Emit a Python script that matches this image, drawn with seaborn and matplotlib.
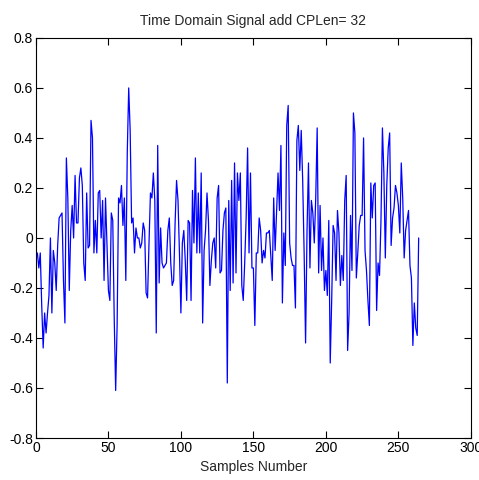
import numpy as np
import pandas as pd
import matplotlib
matplotlib.use("Agg")
import matplotlib.pyplot as plt
import seaborn as sns

# --- data (samples 0..263) ---
seg1 = [-0.06, -0.12, -0.06, -0.27, -0.44, -0.30, -0.38, -0.30, -0.23, 0.00,
        -0.30, -0.05, -0.10, -0.21, -0.03, 0.08, 0.09, 0.10, -0.17, -0.34,
        0.32, 0.16, -0.21, 0.03, 0.13, 0.00, 0.25, 0.06, 0.06, 0.24,
        0.28, 0.21, -0.10, -0.17, 0.18, -0.04, -0.03, 0.47, 0.40, -0.06,
        0.07, -0.06, 0.18, 0.19, 0.00, 0.15, -0.17]
seg2 = [0.16, -0.02, -0.21, -0.25, 0.10, 0.07, -0.32, -0.61, -0.35, 0.16,
        0.14, 0.21, 0.05, 0.16, -0.17, 0.34, 0.60, 0.43, 0.06, 0.08,
        -0.06, 0.04, 0.00, 0.00, -0.04, -0.02, 0.06, 0.03, -0.22, -0.24,
        -0.02, 0.18, 0.16, 0.26, 0.15, -0.38, 0.37, -0.18, 0.04, -0.10,
        -0.12, -0.11, -0.10, 0.03, 0.08, -0.10, -0.19, -0.17, 0.06, 0.23,
        0.15, -0.06, -0.30]
seg3 = [-0.02, 0.03, -0.09, -0.25, 0.07, 0.06, -0.25, 0.19, -0.02, 0.32,
        -0.06, 0.18, -0.06, 0.26, -0.34, -0.05, 0.03, 0.18, 0.07, -0.19,
        -0.09, -0.02, 0.00, -0.12, 0.16, 0.21, -0.14, -0.13, 0.03, 0.10,
        0.12, -0.58, 0.15, -0.21, 0.23, -0.18, 0.30, -0.14, 0.26, 0.15,
        0.26, -0.19, -0.25, -0.10, 0.08, 0.36, -0.06, 0.26, -0.12, -0.12,
        -0.35, -0.06, -0.06, 0.08, 0.03]
seg4 = [-0.10, -0.05, -0.08, 0.02, 0.02, 0.03, -0.07, -0.17, 0.16, -0.05,
        0.11, 0.26, 0.11, 0.37, -0.26, 0.02, -0.11, 0.45, 0.53, -0.02,
        -0.08, -0.11, -0.11, -0.28, 0.39, 0.45, 0.27, 0.43, 0.23, -0.06,
        -0.42, 0.03, 0.30, -0.12, 0.15, 0.10, -0.02, 0.16, 0.44, -0.14,
        0.13, -0.13, 0.00, -0.21, -0.13, -0.23, 0.07, -0.50]
seg5 = [-0.25, 0.05, 0.02, -0.17, 0.11, 0.02, -0.19, -0.07, -0.17, 0.15,
        0.25, -0.45, -0.30, 0.09, -0.13, 0.50, 0.42, -0.16, -0.06, 0.05,
        0.09, 0.09, 0.40, -0.05, -0.13, -0.25, -0.35, 0.22, 0.08, 0.21,
        0.22, -0.29, -0.10, -0.15, 0.07, 0.44, 0.26, -0.08, 0.21, 0.36,
        0.42, -0.03, 0.08, 0.12, 0.21, 0.18, 0.13, 0.02, 0.30, 0.16,
        -0.08, 0.03, 0.07, 0.11, -0.11, -0.16, -0.43, -0.26, -0.36, -0.39,
        0.00]

xticks = [0, 50, 100, 150, 200, 250, 300]
yticks = [-0.8, -0.6, -0.4, -0.2, 0, 0.2, 0.4, 0.6, 0.8]
ytick_labels = ["-0.8", "-0.6", "-0.4", "-0.2", "0", "0.2", "0.4", "0.6", "0.8"]
title = "Time Domain Signal add CPLen= 32"
xlabel = "Samples Number"

signal = seg1 + seg2 + seg3 + seg4 + seg5
df = pd.DataFrame({"n": np.arange(1, len(signal) + 1), "v": signal})

sns.set_style("ticks")
plt.rcParams["font.family"] = ["Liberation Sans", "DejaVu Sans"]
plt.rcParams["axes.unicode_minus"] = False

fig = plt.figure(figsize=(4.79, 4.80), dpi=100)
ax = fig.add_axes([0.075, 0.0875, 0.908, 0.8335])
sns.lineplot(data=df, x="n", y="v", color="#0000FF", linewidth=0.9, ax=ax)

ax.set_xlim(0, 300)
ax.set_ylim(-0.8, 0.8)
ax.set_xticks(xticks)
ax.set_xticklabels([str(t) for t in xticks])
ax.set_yticks(yticks)
ax.set_yticklabels(ytick_labels)
ax.tick_params(direction="in", length=5, width=0.8, labelsize=10, pad=2,
               top=True, right=True, colors="black")
for s in ax.spines.values():
    s.set_visible(True)
    s.set_color("black")
    s.set_linewidth(0.8)
ax.set_title(title, fontsize=10, pad=9)
ax.set_xlabel(xlabel, fontsize=10, labelpad=4)
ax.set_ylabel("")
fig.savefig("out.png", dpi=100, facecolor="white")
